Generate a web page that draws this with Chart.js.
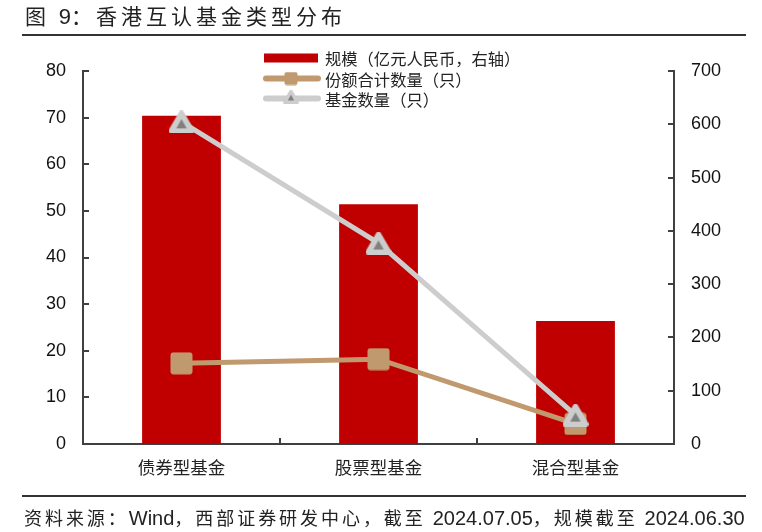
<!DOCTYPE html>
<html>
<head>
<meta charset="utf-8">
<script src="https://cdn.jsdelivr.net/npm/chart.js@4.4.1/dist/chart.umd.min.js"></script>
<style>
  html, body { margin: 0; padding: 0; background: #fff; }
  #wrap { position: relative; width: 762px; height: 532px; overflow: hidden; }
  #c { position: absolute; left: 0; top: 0; }
  .title { position: absolute; left: 25px; top: 0px; font-family: "Noto Sans CJK SC", sans-serif; font-size: 21px; color: #222; letter-spacing: 4px; white-space: nowrap; }
  .title .num { font-family: "Liberation Sans", Arial, sans-serif; font-size: 22px; letter-spacing: 0; }
  .rule { position: absolute; left: 22px; width: 724px; height: 2px; background: #333; }
  .foot { position: absolute; left: 24px; top: 504px; font-family: "Noto Sans CJK SC", sans-serif; font-size: 18px; color: #222; white-space: nowrap; letter-spacing: 2.95px; }
  .foot .lat { font-family: "Liberation Sans", Arial, sans-serif; font-size: 20px; letter-spacing: 0; }
</style>
</head>
<body>
<div id="wrap">
  <canvas id="c" width="762" height="532"></canvas>
  <div class="title">图 <span class="num">9</span>：香港互认基金类型分布</div>
  <div class="rule" style="top:34px"></div>
  <div class="rule" style="top:495px"></div>
  <div class="foot">资料来源：<span class="lat">Wind</span>，西部证券研发中心，截至 <span class="lat">2024.07.05</span>，规模截至 <span class="lat">2024.06.30</span></div>
</div>
<script>
// ---- data ----
const categories = ['债券型基金', '股票型基金', '混合型基金'];
const seriesNames = ['规模（亿元人民币，右轴）', '份额合计数量（只）', '基金数量（只）'];
const scaleValues = [616, 450, 231];      // 规模, right axis
const shareCounts = [17.3, 18.2, 4.3];    // 份额合计数量, left axis
const fundCounts = [69.1, 43.1, 6.2];     // 基金数量, left axis
const leftTicks = [0, 10, 20, 30, 40, 50, 60, 70, 80];
const rightTicks = [0, 100, 200, 300, 400, 500, 600, 700];

// ---- styles ----
const RED = '#C00000';
const BROWN = '#C09A6E';
const LGRAY = '#CDCDCD';
const DGRAY = '#808080';
const AXIS = '#404040';

function makeSquare(size, r, color) {
  const cv = document.createElement('canvas');
  cv.width = size; cv.height = size;
  const g = cv.getContext('2d');
  g.fillStyle = color;
  g.beginPath();
  g.roundRect(0.5, 0.5, size - 1, size - 1, r);
  g.fill();
  return cv;
}
function makeTriangle(w, h, lw) {
  const cv = document.createElement('canvas');
  cv.width = w; cv.height = h;
  const g = cv.getContext('2d');
  const m = lw / 2;
  g.lineJoin = 'round';
  g.lineWidth = lw;
  g.strokeStyle = LGRAY;
  g.fillStyle = LGRAY;
  g.beginPath();
  g.moveTo(w / 2, m); g.lineTo(w - m, h - m); g.lineTo(m, h - m); g.closePath();
  g.fill(); g.stroke();
  const cx = w / 2, cy = h * 0.62;
  const s = w * 0.2;
  g.fillStyle = DGRAY;
  g.beginPath();
  g.moveTo(cx, cy - s * 1.05); g.lineTo(cx + s, cy + s * 0.7); g.lineTo(cx - s, cy + s * 0.7); g.closePath();
  g.fill();
  return cv;
}
const squareImg = makeSquare(23, 3, BROWN);
const triImg = makeTriangle(26, 23, 5);
const squareSmall = makeSquare(14, 2, BROWN);
const triSmall = makeTriangle(16, 14, 3);

const tickFont = { family: '"Liberation Sans", Arial, sans-serif', size: 18 };

const deco = {
  id: 'deco',
  afterDraw(chart) {
    const ctx = chart.ctx;
    const a = chart.chartArea;
    const yl = chart.scales.yL, yr = chart.scales.yR, x = chart.scales.x;
    ctx.save();
    ctx.strokeStyle = AXIS;
    ctx.lineWidth = 2;
    ctx.beginPath();
    leftTicks.forEach(v => { const p = Math.round(yl.getPixelForValue(v)); ctx.moveTo(a.left, p); ctx.lineTo(a.left + 6, p); });
    rightTicks.forEach(v => { const p = Math.round(yr.getPixelForValue(v)); ctx.moveTo(a.right - 6, p); ctx.lineTo(a.right, p); });
    for (let i = 0; i < categories.length - 1; i++) {
      const px = Math.round((x.getPixelForTick(i) + x.getPixelForTick(i + 1)) / 2);
      ctx.moveTo(px, a.bottom); ctx.lineTo(px, a.bottom - 6);
    }
    ctx.stroke();

    // legend
    const lx0 = 264, lx1 = 318, tx = 325;
    const rows = [58, 78.5, 98.5];
    ctx.fillStyle = RED;
    ctx.fillRect(lx0, rows[0] - 4.5, lx1 - lx0, 9);
    ctx.lineCap = 'round';
    ctx.lineWidth = 6;
    ctx.strokeStyle = BROWN;
    ctx.beginPath(); ctx.moveTo(lx0 + 2, rows[1]); ctx.lineTo(lx1, rows[1]); ctx.stroke();
    ctx.drawImage(squareSmall, (lx0 + lx1) / 2 - 7, rows[1] - 7);
    ctx.strokeStyle = LGRAY;
    ctx.beginPath(); ctx.moveTo(lx0 + 2, rows[2]); ctx.lineTo(lx1, rows[2]); ctx.stroke();
    ctx.drawImage(triSmall, (lx0 + lx1) / 2 - 8, rows[2] - 9);
    ctx.fillStyle = '#222';
    ctx.font = '16.3px "Noto Sans CJK SC", sans-serif';
    ctx.textBaseline = 'middle';
    ctx.textAlign = 'left';
    seriesNames.forEach((n, i) => ctx.fillText(n, tx, rows[i] + 1));
    ctx.restore();
  }
};

new Chart(document.getElementById('c'), {
  type: 'bar',
  data: {
    labels: categories,
    datasets: [
      {
        type: 'line', label: seriesNames[2], data: fundCounts, yAxisID: 'yL', order: 0,
        borderColor: LGRAY, borderWidth: 5, pointStyle: triImg, pointRadius: 12,
        backgroundColor: LGRAY, tension: 0, fill: false
      },
      {
        type: 'line', label: seriesNames[1], data: shareCounts, yAxisID: 'yL', order: 1,
        borderColor: BROWN, borderWidth: 5, pointStyle: squareImg, pointRadius: 12,
        backgroundColor: BROWN, tension: 0, fill: false
      },
      {
        type: 'bar', label: seriesNames[0], data: scaleValues, yAxisID: 'yR', order: 2,
        backgroundColor: RED, borderWidth: 0, categoryPercentage: 1, barPercentage: 0.4
      }
    ]
  },
  options: {
    responsive: false,
    animation: false,
    devicePixelRatio: 1,
    layout: { padding: { top: 71, bottom: 0, left: 0, right: 0 } },
    plugins: { legend: { display: false }, tooltip: { enabled: false }, title: { display: false } },
    scales: {
      x: {
        grid: { display: false, drawTicks: false },
        border: { display: true, color: AXIS, width: 2 },
        ticks: { color: '#222', font: { family: '"Noto Sans CJK SC", sans-serif', size: 17.5 }, padding: 13, maxRotation: 0 },
        afterFit(s) { s.height = 532 - 444; }
      },
      yL: {
        position: 'left', min: 0, max: 80,
        grid: { display: false, drawTicks: false },
        border: { display: true, color: AXIS, width: 2 },
        ticks: { stepSize: 10, color: '#111', font: tickFont, padding: 17 },
        afterBuildTicks(s) { s.ticks = leftTicks.map(v => ({ value: v })); },
        afterFit(s) { s.width = 83; }
      },
      yR: {
        position: 'right', min: 0, max: 700,
        grid: { display: false, drawTicks: false },
        border: { display: true, color: AXIS, width: 2 },
        ticks: { stepSize: 100, color: '#111', font: tickFont, padding: 17 },
        afterBuildTicks(s) { s.ticks = rightTicks.map(v => ({ value: v })); },
        afterFit(s) { s.width = 762 - 674; }
      }
    }
  },
  plugins: [deco]
});
</script>
</body>
</html>
